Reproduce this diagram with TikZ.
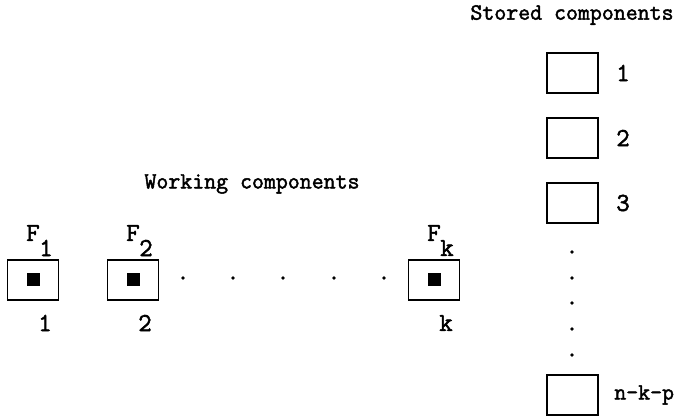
\documentclass[tikz,border=0pt]{standalone}
\usepackage{fontspec}
\setmonofont{Latin Modern Mono}[AutoFakeBold=2]
\begin{document}
\begin{tikzpicture}[x=0.5pt,y=-0.5pt,
  box/.style={draw, line width=0.9pt, minimum width=25.5pt, minimum height=20pt, inner sep=0pt},
  core/.style={fill=black, minimum size=6.5pt, inner sep=0pt},
  lbl/.style={font=\ttfamily\bfseries\fontsize{11.6}{13}\selectfont, inner sep=0pt},
  num/.style={font=\ttfamily\bfseries\fontsize{13}{14}\selectfont, inner sep=0pt}]
\useasboundingbox (0,0) rectangle (679,416);
\node[lbl] (stored) at (572,15) {Stored components};
\node[lbl] (working) at (252,184) {Working components};
% working components
\foreach \x/\n [count=\i] in {33/1,133/2,434/k} {
  \node[box] (w\i) at (\x,280) {};
  \node[core] (c\i) at (w\i) {};
  \node[num] (F\i) at (\x,233) {F};
  \node[num] (f\i) at (\x+13,248) {\n};
  \node[num] (wn\i) at (\x+12,323) {\n};
}
\foreach \x in {183,233,283,334,384} \fill (\x,278) circle (0.9pt);
% stored components
\foreach \y/\n [count=\i] in {73/1,138/2,203/3} {
  \node[box] (s\i) at (572.5,\y) {};
  \node[num, anchor=west] (sn\i) at ([xshift=8.5pt]s\i.east) {\n};
}
\node[box] (s4) at (572.5,395) {};
\node[lbl, anchor=west] (sn4) at ([xshift=7.5pt]s4.east) {n-k-p};
\foreach \y in {252,278,303,329,355} \fill (572,\y) circle (0.9pt);
\end{tikzpicture}
\end{document}
